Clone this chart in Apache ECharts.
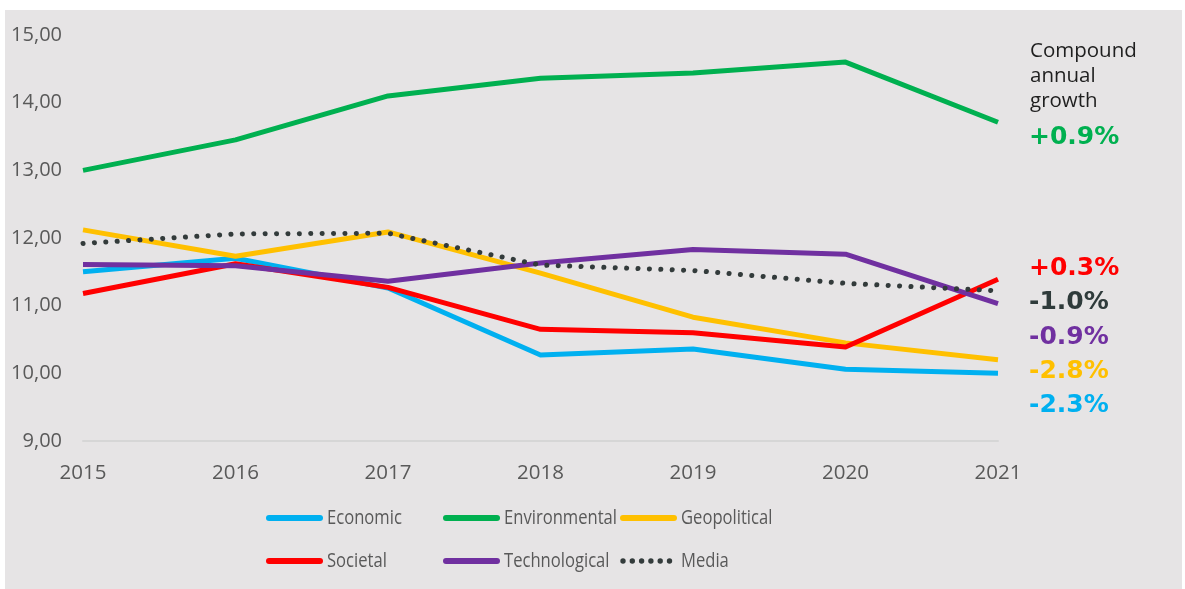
<!DOCTYPE html>
<html>
<head>
<meta charset="utf-8">
<script src="https://cdn.jsdelivr.net/npm/echarts@6/dist/echarts.min.js"></script>
<style>
  html, body { margin: 0; padding: 0; background: #ffffff; }
  #chart { position: absolute; left: 5px; top: 10px; width: 1177px; height: 579px; background: #e6e4e5; }
</style>
</head>
<body>
<div id="chart"></div>
<script>
// Risk scores by category, 2015–2021
const years = ['2015', '2016', '2017', '2018', '2019', '2020', '2021'];
const economic      = [11.50, 11.70, 11.26, 10.27, 10.36, 10.06, 10.00];
const environmental = [13.00, 13.45, 14.10, 14.36, 14.44, 14.60, 13.71];
const geopolitical  = [12.12, 11.73, 12.09, 11.48, 10.83, 10.45, 10.20];
const societal      = [11.18, 11.62, 11.27, 10.65, 10.60, 10.39, 11.39];
const technological = [11.61, 11.59, 11.36, 11.63, 11.83, 11.76, 11.03];
const media         = [11.92, 12.06, 12.07, 11.60, 11.52, 11.33, 11.22];

const yTickLabels = ['9,00', '10,00', '11,00', '12,00', '13,00', '14,00', '15,00'];

// Compound annual growth, in the order the labels are stacked on the right
const growthTitle = ['Compound', 'annual', 'growth'];
const growthLabels = [
  { name: 'Environmental', text: '+0.9%' },
  { name: 'Societal',      text: '+0.3%' },
  { name: 'Media',         text: '-1.0%' },
  { name: 'Technological', text: '-0.9%' },
  { name: 'Geopolitical',  text: '-2.8%' },
  { name: 'Economic',      text: '-2.3%' }
];

const colors = {
  Economic: '#00b0f0',
  Environmental: '#00b050',
  Geopolitical: '#ffc000',
  Societal: '#ff0000',
  Technological: '#7030a0',
  Media: '#333b3b'
};

const seriesDefs = [
  ['Economic', economic],
  ['Environmental', environmental],
  ['Geopolitical', geopolitical],
  ['Societal', societal],
  ['Technological', technological],
  ['Media', media]
];

const chart = echarts.init(document.getElementById('chart'), null, { renderer: 'canvas' });

const FONT = '"Open Sans", "Noto Sans", sans-serif';
const AXIS_GREY = '#595959';

const series = seriesDefs.map(([name, values]) => ({
  name: name,
  type: 'line',
  data: values,
  symbol: 'none',
  smooth: false,
  lineStyle: name === 'Media'
    ? { color: colors[name], width: 5, type: [0.1, 11.3], cap: 'round' }
    : { color: colors[name], width: 5, cap: 'butt', join: 'round' },
  itemStyle: { color: colors[name] },
  emphasis: { disabled: true }
}));

const graphics = [];

// Legend: three columns of two entries, condensed labels
const legendCols = [261, 438, 615];
const legendRows = [508, 551];
seriesDefs.forEach(([name], i) => {
  const x = legendCols[i % 3];
  const y = legendRows[Math.floor(i / 3)];
  const children = [];
  if (name === 'Media') {
    for (let k = 0; k < 6; k++) {
      children.push({ type: 'circle', shape: { cx: 3 + k * 9.3, cy: 0, r: 2.7 }, style: { fill: colors[name] } });
    }
  } else {
    children.push({ type: 'rect', shape: { x: 0, y: -3, width: 57, height: 6, r: 3 }, style: { fill: colors[name] } });
  }
  children.push({
    type: 'text', x: 61, y: 0, scaleX: 0.83,
    style: { text: name, font: '20px ' + FONT, fill: AXIS_GREY, verticalAlign: 'middle', align: 'left' }
  });
  graphics.push({ type: 'group', x: x, y: y, children: children, silent: true });
});

growthTitle.forEach((t, i) => {
  graphics.push({
    type: 'text', left: 1025, top: 31 + i * 25,
    style: { text: t, font: '20.5px ' + FONT, fill: '#1f1f1f' }
  });
});
growthLabels.forEach((g, i) => {
  const top = i === 0 ? 115 : 246 + (i - 1) * 34.3;
  graphics.push({
    type: 'text', left: 1024, top: top,
    style: { text: g.text, font: 'bold 25px "DejaVu Sans", "Open Sans", sans-serif', fill: g.name === 'Media' ? '#2f3b3b' : colors[g.name] }
  });
});

chart.setOption({
  backgroundColor: 'transparent',
  animation: false,
  grid: { left: 78, right: 184, top: 25, bottom: 148, containLabel: false },
  xAxis: {
    type: 'category',
    data: years,
    boundaryGap: false,
    axisLine: { show: true, lineStyle: { color: '#d6d6d6', width: 2 } },
    axisTick: { show: false },
    splitLine: { show: false },
    axisLabel: { fontFamily: FONT, fontSize: 20.5, color: AXIS_GREY, margin: 22 }
  },
  yAxis: {
    type: 'value',
    min: 9,
    max: 15,
    interval: 1,
    axisLine: { show: false },
    axisTick: { show: false },
    splitLine: { show: false },
    axisLabel: {
      fontFamily: FONT, fontSize: 20, color: AXIS_GREY, margin: 21,
      padding: [4, 0, 0, 0],
      formatter: v => yTickLabels[Math.round(v - 9)]
    }
  },
  graphic: graphics,
  series: series
});
</script>
</body>
</html>
